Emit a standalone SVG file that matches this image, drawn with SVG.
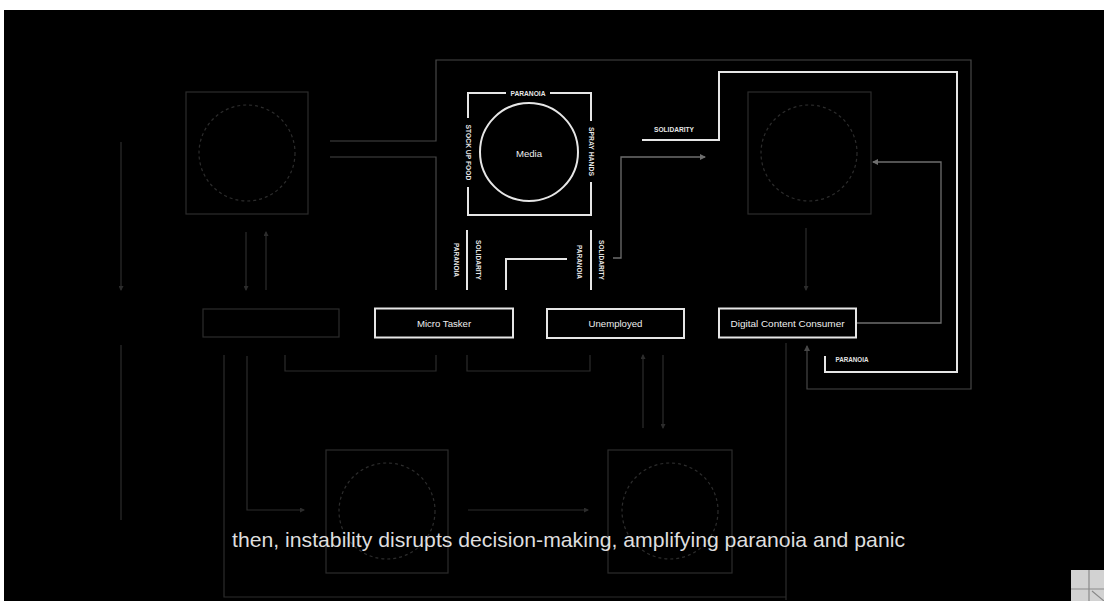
<svg xmlns="http://www.w3.org/2000/svg" width="1104" height="601" viewBox="0 0 1104 601">
<style>
.bright{fill:none;stroke:#e6e6e6;stroke-width:2}
.mid{fill:none;stroke:#6e6e6e;stroke-width:1.3}
.faint{fill:none;stroke:#474747;stroke-width:1.2}
.dim{fill:none;stroke:#2c2c2c;stroke-width:1.2}
.lbl{font-family:"Liberation Sans",Arial,sans-serif;font-size:6.3px;font-weight:bold;fill:#e6e6e6}
.node{font-family:"Liberation Sans",Arial,sans-serif;font-size:9.6px;fill:#eeeeee;text-anchor:middle;dominant-baseline:central}
.sub{font-family:"Liberation Sans",Arial,sans-serif;font-size:21px;fill:#dedede;text-anchor:middle}
</style>
<defs>
<marker id="arrMid" markerWidth="6" markerHeight="6" refX="5" refY="3" orient="auto" markerUnits="userSpaceOnUse"><path d="M0,0 L6,3 L0,6 Z" fill="#6e6e6e"/></marker>
<marker id="arrFaint" markerWidth="6" markerHeight="6" refX="5" refY="3" orient="auto" markerUnits="userSpaceOnUse"><path d="M0,0 L6,3 L0,6 Z" fill="#474747"/></marker>
<marker id="arrDim" markerWidth="5" markerHeight="5" refX="4" refY="2.5" orient="auto" markerUnits="userSpaceOnUse"><path d="M0,0 L5,2.5 L0,5 Z" fill="#2c2c2c"/></marker>
</defs>
<rect x="0" y="0" width="1104" height="601" fill="#ffffff"/>
<rect x="4" y="10" width="1100" height="591" fill="#000000"/>

<!-- dim background nodes -->
<g id="dim-node-topleft">
<rect class="dim" x="186" y="92" width="122" height="122"/>
<circle class="dim" cx="247" cy="153" r="48" stroke-dasharray="3 3"/>
</g>
<g id="dim-node-topright">
<rect class="dim" x="748" y="92" width="123" height="122"/>
<circle class="dim" cx="809" cy="153" r="48" stroke-dasharray="3 3"/>
</g>
<g id="dim-node-bottom-left">
<rect class="dim" x="326" y="450" width="122" height="123"/>
<circle class="dim" cx="387" cy="511" r="48" stroke-dasharray="3 3"/>
</g>
<g id="dim-node-bottom-right">
<rect class="dim" x="608" y="450" width="124" height="123"/>
<circle class="dim" cx="670" cy="511" r="48" stroke-dasharray="3 3"/>
</g>
<g id="dim-node-entrepreneur">
<rect class="dim" x="203" y="309" width="136" height="28"/>
</g>

<!-- connectors -->
<g id="connectors">
<!-- dim connectors -->
<path class="dim" d="M121,142 V290" marker-end="url(#arrDim)"/>
<path class="dim" d="M121,345 V520"/>
<path class="dim" d="M246,232 V290" marker-end="url(#arrDim)"/>
<path class="dim" d="M266,290 V232" marker-end="url(#arrDim)"/>
<path class="dim" d="M285,355 V371 H436 V355"/>
<path class="dim" d="M467,355 V371 H590 V355"/>
<path class="dim" d="M224,355 V597 H786"/>
<path class="dim" d="M247,356 V510 H304" marker-end="url(#arrDim)"/>
<path class="dim" d="M643,428 V355" marker-end="url(#arrDim)"/>
<path class="dim" d="M663,355 V428" marker-end="url(#arrDim)"/>
<path class="dim" d="M468,510 H588" marker-end="url(#arrDim)"/>
<path class="dim" d="M806,228 V290" marker-end="url(#arrDim)"/>
<path class="dim" d="M786,343 V600"/>
<!-- faint outer connector -->
<path class="faint" d="M330,141 H436 V60 H971 V389 H807 V346" marker-end="url(#arrFaint)"/>
<path class="faint" d="M330,157 H436 V290"/>
<!-- mid connectors -->
<path class="mid" d="M613,258 H621 V157 H705" marker-end="url(#arrMid)"/>
<path class="mid" d="M857,323 H941 V162 H873" marker-end="url(#arrMid)"/>
<!-- bright connectors -->
<path class="bright" d="M467,230 V290"/>
<path class="bright" d="M591,230 V290"/>
<path class="bright" d="M506,290 V259 H567"/>
<path class="bright" d="M642,140 H719 V72 H957 V372 H825 V356"/>
<text class="lbl" x="674" y="132" text-anchor="middle" textLength="40" lengthAdjust="spacingAndGlyphs">SOLIDARITY</text>
<text class="lbl" x="852" y="362" text-anchor="middle" textLength="33" lengthAdjust="spacingAndGlyphs">PARANOIA</text>
<text class="lbl" transform="translate(456,260) rotate(90)" text-anchor="middle" dominant-baseline="central" textLength="34" lengthAdjust="spacingAndGlyphs">PARANOIA</text>
<text class="lbl" transform="translate(478,260) rotate(90)" text-anchor="middle" dominant-baseline="central" textLength="40" lengthAdjust="spacingAndGlyphs">SOLIDARITY</text>
<text class="lbl" transform="translate(579,262) rotate(90)" text-anchor="middle" dominant-baseline="central" textLength="34" lengthAdjust="spacingAndGlyphs">PARANOIA</text>
<text class="lbl" transform="translate(601,260) rotate(90)" text-anchor="middle" dominant-baseline="central" textLength="40" lengthAdjust="spacingAndGlyphs">SOLIDARITY</text>
</g>

<!-- Media node -->
<g id="node-media">
<path class="bright" d="M506,93 H468 V118 M468,187 V215 H591 V182 M591,121 V93 H550"/>
<circle class="bright" cx="529" cy="152" r="49"/>
<text class="node" x="529" y="153" font-size="10">Media</text>
<text class="lbl" x="528" y="93" text-anchor="middle" dominant-baseline="central" textLength="35" lengthAdjust="spacingAndGlyphs">PARANOIA</text>
<text class="lbl" transform="translate(468,152.5) rotate(90)" text-anchor="middle" dominant-baseline="central" textLength="56" lengthAdjust="spacingAndGlyphs">STOCK UP FOOD</text>
<text class="lbl" transform="translate(591,151.5) rotate(90)" text-anchor="middle" dominant-baseline="central" textLength="49" lengthAdjust="spacingAndGlyphs">SPRAY HANDS</text>
</g>

<g id="node-micro-tasker">
<rect class="bright" x="375" y="308.5" width="138" height="29" fill="#000"/>
<text class="node" x="444" y="323">Micro Tasker</text>
</g>
<g id="node-unemployed">
<rect class="bright" x="547" y="309" width="137" height="29" fill="#000"/>
<text class="node" x="615.5" y="323.5">Unemployed</text>
</g>
<g id="node-digital-content-consumer">
<rect class="bright" x="719" y="308.5" width="137" height="29" fill="#000"/>
<text class="node" x="787.5" y="323" textLength="114" lengthAdjust="spacingAndGlyphs">Digital Content Consumer</text>
</g>

<!-- subtitle -->
<text class="sub" x="568.5" y="547" textLength="673" lengthAdjust="spacingAndGlyphs">then, instability disrupts decision-making, amplifying paranoia and panic</text>

<!-- corner icon -->
<g id="corner-icon">
<rect x="1071" y="570" width="33" height="31" fill="#d2d2d2"/>
<path d="M1089,570 V601 M1071,589 H1104 M1092,591 L1104,601" stroke="#8a8a8a" stroke-width="1.2" fill="none"/>
</g>
</svg>
